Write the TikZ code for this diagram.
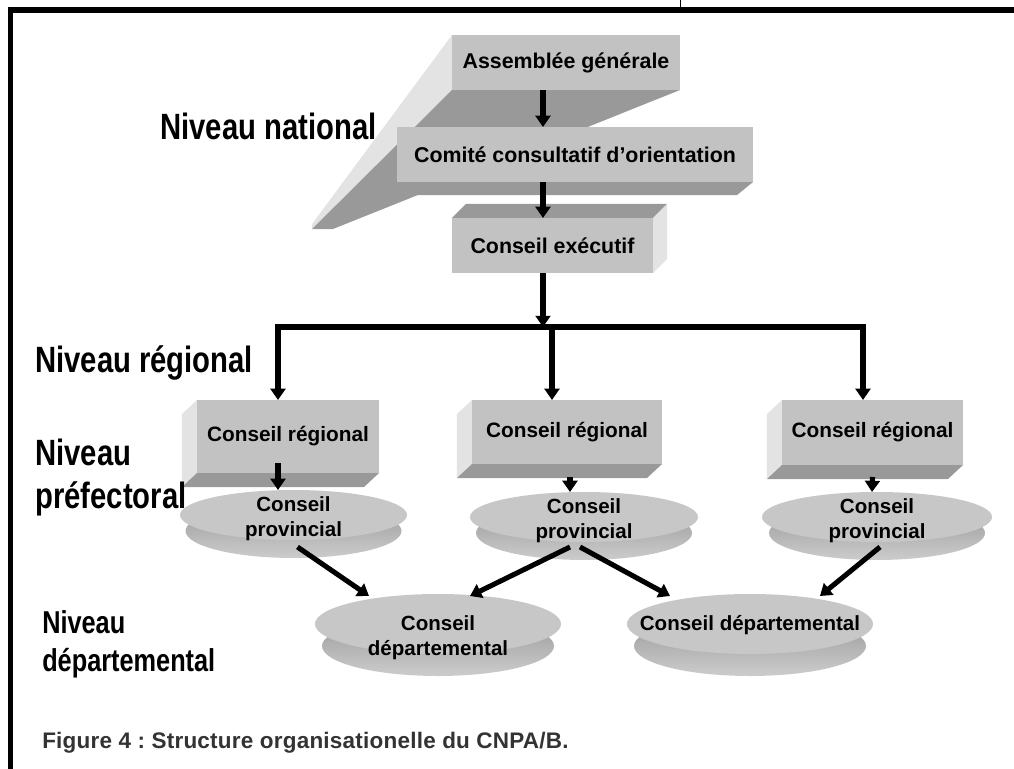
\documentclass[tikz,border=0pt]{standalone}
\usepackage{fontspec}
\setmainfont{Liberation Sans}
\newfontfamily\lvlfont[FakeStretch=0.8]{Liberation Sans Bold}
\newfontfamily\capfont[LetterSpace=1]{Liberation Sans Bold}
\usetikzlibrary{arrows.meta,positioning,calc,shapes.geometric,backgrounds}
\frenchspacing
\definecolor{face}{gray}{0.76}
\definecolor{clair}{gray}{0.89}
\definecolor{sombre}{gray}{0.6}
\definecolor{disq}{gray}{0.78}
\tikzset{
  fleche/.style={-{Triangle[length=8pt,width=10.5pt]},line width=3.6pt},
  cadre/.style={line width=3.6pt},
  boite/.style={rectangle,fill=face,inner sep=0pt,outer sep=0pt,font=\bfseries\fontsize{15.2}{18}\selectfont},
  disque/.style={ellipse,fill=disq,inner sep=0pt,outer sep=0pt},
  dtexte/.style={align=center,inner sep=0pt,font=\bfseries\fontsize{14.6}{18}\selectfont},
  niveau/.style={anchor=west,align=left,inner sep=0pt,font=\lvlfont\fontsize{26}{30.6}\selectfont},
  legende/.style={anchor=west,inner sep=0pt,text=black!80,font=\capfont\fontsize{16}{19}\selectfont},
}

\begin{document}
\begin{tikzpicture}[x=0.025cm,y=-0.025cm]
  \useasboundingbox (0,0) rectangle (1014,769);
  \draw[cadre] (8,10) -- (1014,10);
  \draw[cadre] (10.5,8) -- (10.5,769);
  \draw[line width=0.7pt] (680,0) -- (680,8);

  \node[boite,minimum width=5.7cm,minimum height=1.375cm] (asm) at (566,62.5) {Assemblée générale};
  \node[boite,minimum width=8.9cm,minimum height=1.375cm] (cco) at (575,154.5) {Comité consultatif d’orientation};
  \node[boite,minimum width=5.025cm,minimum height=1.375cm] (cex) at (552.5,245.5) {Conseil exécutif};
  \node[boite,font=\bfseries\fontsize{14.8}{17}\selectfont,minimum width=4.55cm,minimum height=1.825cm] (reg1) at (288,436.5) {Conseil régional};
  \node[boite,font=\bfseries\fontsize{14.8}{17}\selectfont,minimum width=4.75cm,minimum height=1.6cm] (reg2) at (567,432) {Conseil régional};
  \node[boite,font=\bfseries\fontsize{14.8}{17}\selectfont,minimum width=4.525cm,minimum height=1.625cm] (reg3) at (872.5,432.5) {Conseil régional};

  \node[disque,minimum width=5.675cm,minimum height=1.25cm] (prov1) at (293.5,515) {};
  \node[disque,minimum width=5.7cm,minimum height=1.25cm] (prov2) at (584,517) {};
  \node[disque,minimum width=5.75cm,minimum height=1.25cm] (prov3) at (877,517) {};
  \node[disque,minimum width=6.15cm,minimum height=1.5cm] (dep1) at (438,624) {};
  \node[disque,minimum width=6.15cm,minimum height=1.5cm] (dep2) at (750,624) {};
  \node[dtexte] (t1) at ($(prov1.center)+(0,4)$) {Conseil\\provincial};
  \node[dtexte] (t2) at ($(prov2.center)+(0,4)$) {Conseil\\provincial};
  \node[dtexte] (t3) at ($(prov3.center)+(0,4)$) {Conseil\\provincial};
  \node[dtexte] (t4) at ($(dep1.center)+(0,14)$) {Conseil\\départemental};
  \node[dtexte] (t5) at ($(dep2.center)+(0,1)$) {Conseil départemental};

  \coordinate (fuite) at (298,243);
  \begin{scope}[on background layer]
    \fill[clair] (asm.north west) -- (asm.south west) -- ($(fuite)!0.09!(asm.south west)$) -- ($(fuite)!0.09!(asm.north west)$) -- cycle;
    \fill[sombre] (asm.south west) -- (asm.south east) -- ($(fuite)!0.09!(asm.south east)$) -- ($(fuite)!0.09!(asm.south west)$) -- cycle;
    \fill[sombre] (cco.south west) -- (cco.south east) -- ++(-16,13) -- ($(cco.south west)+(-16,13)$) -- cycle;
    \fill[sombre] (cex.north west) -- ++(14,-14) -- ($(cex.north east)+(14,-14)$) -- (cex.north east) -- cycle;
    \fill[clair] (cex.north east) -- ++(14,-14) -- ($(cex.south east)+(14,-14)$) -- (cex.south east) -- cycle;
    \foreach \r in {reg1,reg2,reg3} {
      \fill[clair] (\r.north west) -- ++(-15,14) -- ($(\r.south west)+(-15,14)$) -- (\r.south west) -- cycle;
      \fill[sombre] (\r.south west) -- ++(-15,14) -- ($(\r.south east)+(-15,14)$) -- (\r.south east) -- cycle;
    }
    \foreach \p in {prov1,prov2,prov3}
      \shade[top color=black!40,bottom color=black!20] ($(\p.center)+(0,16)$) ellipse [x radius=108,y radius=27];
    \foreach \p in {dep1,dep2}
      \shade[top color=black!40,bottom color=black!20] ($(\p.center)+(0,22)$) ellipse [x radius=116,y radius=30];
  \end{scope}

  \coordinate (axe) at (543,0);
  \coordinate (bus) at (0,327);
  \coordinate (d1) at ($(reg1.north)+(-10,0)$);
  \coordinate (d2) at ($(reg2.north)+(-15,0)$);
  \coordinate (d3) at ($(reg3.north)+(-9.5,0)$);
  \draw[fleche] (asm.south -| axe) -- (cco.north -| axe);
  \draw[fleche] (cco.south -| axe) -- (cex.north -| axe);
  \draw[fleche] (cex.south -| axe) -- (bus -| axe);
  \draw[fleche] (d2 |- bus) -| (d1);
  \draw[fleche] (d2 |- bus) -| (d3);
  \draw[fleche] (d2 |- bus) -- (d2);
  \draw[fleche] ($(d1 |- reg1.south)+(0,-10)$) -- (prov1.north -| d1);
  \draw[fleche] ($(reg2.south)+(3,13)$) -- ($(prov2.north)+(-14,0)$);
  \draw[fleche] ($(reg3.south)+(0,12)$) -- ($(prov3.north)+(-5,0)$);
  \draw[fleche] ($(prov1.center)+(4,32)$) -- ($(dep1.center)+(-69,-28)$);
  \draw[fleche] ($(prov2.center)+(-14,30)$) -- ($(dep1.center)+(32,-28)$);
  \draw[fleche] ($(prov2.center)+(-4,30)$) -- ($(dep2.center)+(-80,-28)$);
  \draw[fleche] ($(prov3.center)+(3,30)$) -- ($(dep2.center)+(70,-28)$);

  \node[niveau] (nnat) at (160,126) {Niveau national};
  \node[niveau] (nreg) at (35,363) {Niveau régional};
  \node[niveau] (npref) at (35,478) {Niveau\\préfectoral};
  \node[niveau,font=\lvlfont\fontsize{22.5}{27}\selectfont] (ndep) at (42,644) {Niveau\\départemental};
  \node[legende] (leg) at (42,743) {Figure 4 : Structure organisationelle du CNPA/B.};
\end{tikzpicture}
\end{document}
